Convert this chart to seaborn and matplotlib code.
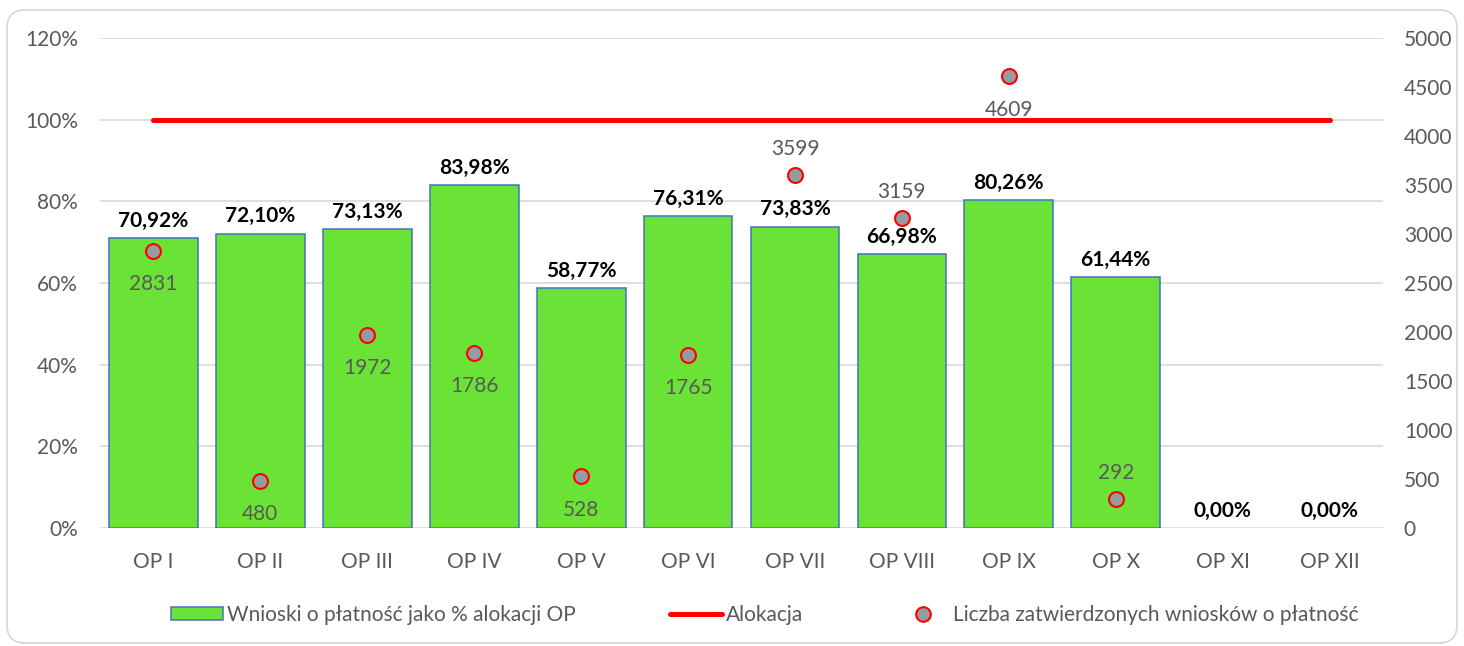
import numpy as np
import pandas as pd
import matplotlib
matplotlib.use('Agg')
import matplotlib.pyplot as plt
import seaborn as sns
from matplotlib.patches import Patch, FancyBboxPatch
from matplotlib.lines import Line2D

categories = ['OP I', 'OP II', 'OP III', 'OP IV', 'OP V', 'OP VI',
              'OP VII', 'OP VIII', 'OP IX', 'OP X', 'OP XI', 'OP XII']
pct_values = [70.92, 72.10, 73.13, 83.98, 58.77, 76.31,
              73.83, 66.98, 80.26, 61.44, 0.00, 0.00]
allocation = [100] * 12
approved_counts = [2831, 480, 1972, 1786, 528, 1765, 3599, 3159, 4609, 292, None, None]
count_label_above = [False, False, False, False, False, False, True, True, False, True, False, False]

sns.set_theme(style='white')
plt.rcParams['font.family'] = ['Lato', 'DejaVu Sans']

GREY_TXT = '#595959'
BAR_GREEN = '#6ae236'
BAR_EDGE = '#4472c4'
FS = 15

fig = plt.figure(figsize=(14.64, 6.46), dpi=100)
ax = fig.add_axes([0.0683, 0.1827, 0.8764, 0.7585])

df = pd.DataFrame({'OP': categories, 'pct': [v / 100 for v in pct_values]})
sns.barplot(data=df, x='OP', y='pct', color=BAR_GREEN, saturation=1,
            width=0.83, edgecolor=BAR_EDGE, linewidth=1.1, ax=ax, zorder=2)
for p, v in zip(ax.patches, pct_values):
    if v == 0:
        p.set_linewidth(0)

# allocation line at 100%
ax.plot(range(len(categories)), [a / 100 for a in allocation], color='#ff0000',
        lw=3.6, solid_capstyle='round', zorder=3)

for i, v in enumerate(pct_values):
    ax.annotate(f'{v:.2f}%'.replace('.', ','), (i, v / 100), xytext=(0, 12.5),
                textcoords='offset points', ha='center', va='center',
                fontsize=FS, fontweight='bold', color='black', zorder=5)

ax.set_ylim(0, 1.2)
ax.set_xlim(-0.5, 11.5)
ticks = np.arange(0, 1.21, 0.2)
ax.set_yticks(ticks)
ax.set_yticklabels([f'{int(round(t * 100))}%' for t in ticks])
ax.yaxis.grid(True, color='#d9d9d9', lw=1.2)
ax.set_axisbelow(True)
ax.set_xlabel('')
ax.set_ylabel('')
ax.tick_params(axis='y', length=0, pad=16, labelsize=FS, labelcolor=GREY_TXT)
ax.tick_params(axis='x', length=0, pad=17, labelsize=FS, labelcolor=GREY_TXT)
for s in ax.spines.values():
    s.set_visible(False)

ax2 = ax.twinx()
pts = pd.DataFrame({'x': range(len(categories)), 'n': approved_counts}).dropna()
sns.scatterplot(data=pts, x='x', y='n', s=115, color='#959ca1',
                edgecolor='#ff0000', linewidth=1.5, ax=ax2, zorder=4)
for i, n in enumerate(approved_counts):
    if n is None:
        continue
    up = count_label_above[i]
    ax2.annotate(str(int(n)), (i, n), xytext=(0, 19 if up else -24),
                 textcoords='offset points', ha='center', va='center',
                 fontsize=FS, color=GREY_TXT)
ax2.set_ylim(0, 5000)
ax2.set_yticks(range(0, 5001, 500))
ax2.set_xlim(-0.5, 11.5)
ax2.set_xlabel('')
ax2.set_ylabel('')
ax2.grid(False)
ax2.tick_params(axis='y', length=0, pad=15, labelsize=FS, labelcolor=GREY_TXT)
for s in ax2.spines.values():
    s.set_visible(False)

handles = [
    Patch(facecolor=BAR_GREEN, edgecolor=BAR_EDGE, linewidth=1.1),
    Line2D([], [], color='#ff0000', lw=3.6, solid_capstyle='round'),
    Line2D([], [], marker='o', ls='', markersize=10.5, markerfacecolor='#959ca1',
           markeredgecolor='#ff0000', markeredgewidth=1.5),
]
labels = ['Wnioski o płatność jako % alokacji OP', 'Alokacja',
          'Liczba zatwierdzonych wniosków o płatność']
fig.legend(handles, labels, loc='center', bbox_to_anchor=(0.5225, 0.048), ncol=3,
           frameon=False, fontsize=FS, columnspacing=4.5, handlelength=2.5,
           handleheight=0.6, handletextpad=0.2, labelcolor=GREY_TXT)

frame = FancyBboxPatch((7, 3), 1450, 633, boxstyle='round,pad=0,rounding_size=18',
                       transform=None, facecolor='none', edgecolor='#d9d9d9', lw=1.3)
fig.patches.append(frame)

fig.savefig('out.png', dpi=100)
